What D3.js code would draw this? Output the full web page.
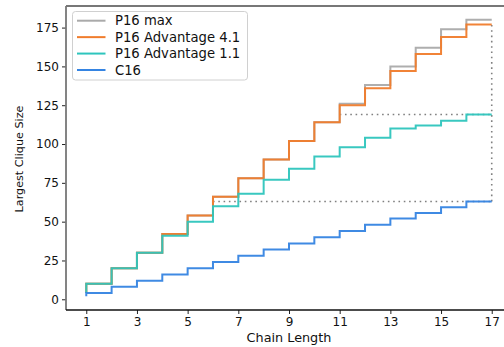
<!DOCTYPE html>
<html>
<head>
<meta charset="utf-8">
<script src="https://cdn.jsdelivr.net/npm/d3@7"></script>
<style>
  html, body { margin: 0; padding: 0; background: #fff; }
  svg { display: block; font-family: "DejaVu Sans", sans-serif; }
</style>
</head>
<body>
<svg id="chart" width="504" height="347"></svg>
<script>
// ---- data ----
const chainLength = [1, 2, 3, 4, 5, 6, 7, 8, 9, 10, 11, 12, 13, 14, 15, 16, 17];
const p16Max   = [4, 10, 20, 30, 42, 54, 66, 78, 90, 102, 114, 126, 138, 150, 162, 174, 180];
const p16Adv41 = [4, 10, 20, 30, 42, 54, 66, 78, 90, 102, 114, 125, 136, 147, 158, 169, 177];
const p16Adv11 = [4, 10, 20, 30, 41, 50, 60, 68, 77, 84, 92, 98, 104, 110, 112, 115, 119];
const c16      = [2, 4, 8, 12, 16, 20, 24, 28, 32, 36, 40, 44, 48, 52, 55.5, 59.3, 63];
const seriesNames = ["P16 max", "P16 Advantage 4.1", "P16 Advantage 1.1", "C16"];
const seriesColors = ["#aaaaaa", "#f07c2c", "#2ec5bd", "#3584e2"];
const xTicks = [1, 3, 5, 7, 9, 11, 13, 15, 17];
const yTicks = [0, 25, 50, 75, 100, 125, 150, 175];
// dotted guide lines: [x0, y0, x1, y1]
const guides = [
  [6, 63, 17, 63],
  [11, 119, 17, 119],
  [17, 63, 17, 177]
];

const seriesValues = [p16Max, p16Adv41, p16Adv11, c16];

const svg = d3.select("#chart");
const mLeft = 66, mTop = 6, mBottom = 310, mRight = 512;

const allVals = seriesValues.flat();
const yMin = d3.min(allVals), yMax = d3.max(allVals);
const yPad = (yMax - yMin) * 0.05;
const x = d3.scaleLinear().domain([0.2, 17.8]).range([mLeft, mRight]);
const y = d3.scaleLinear().domain([yMin - yPad, yMax + yPad]).range([mBottom, mTop]);

// guides
svg.append("g").selectAll("line").data(guides).join("line")
  .attr("x1", d => x(d[0])).attr("y1", d => y(d[1]))
  .attr("x2", d => x(d[2])).attr("y2", d => y(d[3]))
  .attr("stroke", "#808080").attr("stroke-width", 1.6)
  .attr("stroke-dasharray", "1.6,3.7");

// lines
const line = d3.line().curve(d3.curveStepBefore)
  .x((d, i) => x(chainLength[i])).y(d => y(d));
svg.append("g").selectAll("path").data(seriesValues).join("path")
  .attr("d", d => line(d))
  .attr("fill", "none")
  .attr("stroke", (d, i) => seriesColors[i])
  .attr("stroke-width", 2)
  .attr("stroke-opacity", 0.95);

// axes
const xAxis = d3.axisBottom(x).tickValues(xTicks).tickSize(4).tickPadding(3);
const gx = svg.append("g").attr("transform", `translate(0,${mBottom})`).call(xAxis);
gx.select(".domain").remove();
gx.selectAll("text").attr("font-size", 12).attr("font-family", "DejaVu Sans").attr("fill", "#111");
gx.selectAll("line").attr("stroke", "#222");

const yAxis = d3.axisLeft(y).tickValues(yTicks).tickSize(4).tickPadding(3);
const gy = svg.append("g").attr("transform", `translate(${mLeft},0)`).call(yAxis);
gy.select(".domain").remove();
gy.selectAll("text").attr("font-size", 12).attr("font-family", "DejaVu Sans").attr("fill", "#111");
gy.selectAll("line").attr("stroke", "#222");

// spines
svg.append("line").attr("x1", mLeft).attr("x2", 504).attr("y1", mTop).attr("y2", mTop)
  .attr("stroke", "#777").attr("stroke-width", 1.8);
svg.append("line").attr("x1", mLeft).attr("x2", mLeft).attr("y1", mTop).attr("y2", mBottom)
  .attr("stroke", "#777").attr("stroke-width", 1.8);
svg.append("line").attr("x1", mLeft).attr("x2", 504).attr("y1", mBottom).attr("y2", mBottom)
  .attr("stroke", "#111").attr("stroke-width", 1.3);

// axis labels
svg.append("text").attr("x", 289).attr("y", 342)
  .attr("text-anchor", "middle").attr("font-size", 12.8).attr("fill", "#111")
  .text("Chain Length");
svg.append("text").attr("transform", "translate(23,159) rotate(-90)")
  .attr("text-anchor", "middle").attr("font-size", 11.2).attr("fill", "#111")
  .text("Largest Clique Size");

// legend
const lg = svg.append("g");
lg.append("rect").attr("x", 72.5).attr("y", 11.5).attr("width", 175).attr("height", 68.5)
  .attr("rx", 3).attr("fill", "#fff").attr("fill-opacity", 0.85)
  .attr("stroke", "#d0d0d0").attr("stroke-width", 1);
const rowY = d3.scalePoint().domain(seriesNames).range([20.7, 70]);
seriesNames.forEach((name, i) => {
  lg.append("line").attr("x1", 77).attr("x2", 105.5)
    .attr("y1", rowY(name)).attr("y2", rowY(name))
    .attr("stroke", seriesColors[i]).attr("stroke-width", 2);
  lg.append("text").attr("x", 115).attr("y", rowY(name) + 4.6)
    .attr("font-size", 13.2).attr("fill", "#111").text(name);
});
</script>
</body>
</html>
